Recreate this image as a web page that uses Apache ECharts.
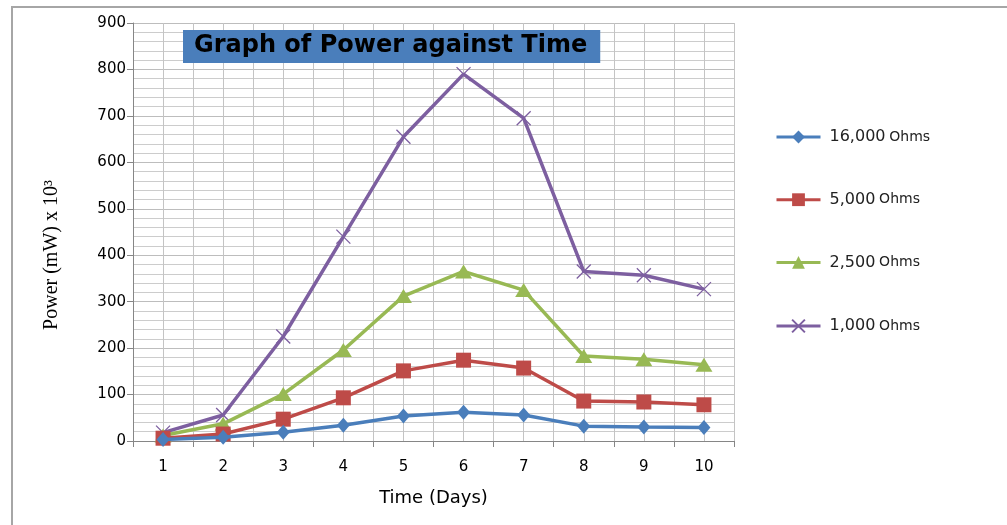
<!DOCTYPE html>
<html><head><meta charset="utf-8">
<script src="https://cdn.jsdelivr.net/npm/echarts@6/dist/echarts.min.js"></script>
<style>html,body{margin:0;padding:0;background:#fff}#c{width:1007px;height:525px}</style>
</head><body><div id="c"></div>
<script>
// ---- data ----
const days = ['1','2','3','4','5','6','7','8','9','10'];
const seriesNames = ['16,000 Ohms','5,000 Ohms','2,500 Ohms','1,000 Ohms'];
const ohms16000 = [3, 8, 19, 34, 54, 62, 56, 32, 30, 29];
const ohms5000  = [6, 15, 47, 93, 151, 174, 157, 86, 84, 78];
const ohms2500  = [12, 37, 101, 196, 312, 365, 325, 183, 176, 164];
const ohms1000  = [18, 56, 225, 440, 655, 790, 695, 365, 357, 327];
const yMin = 0, yMax = 900, yStep = 100;
const titleText = 'Graph of Power against Time';
const xName = 'Time (Days)';
const yName = 'Power (mW) x 10³';

const colors = ['#4a7ebb', '#be4b48', '#98b954', '#7d5fa0'];
const crossPath = 'path://M0,0L10,10M10,0L0,10';
const font = 'DejaVu Sans';

const chart = echarts.init(document.getElementById('c'));
chart.setOption({
  animation: false,
  backgroundColor: '#fff',
  title: {
    text: titleText,
    left: 183, top: 30,
    backgroundColor: '#4a7ebb',
    padding: [4, 13, 5, 11],
    textStyle: { fontFamily: font, fontWeight: 'bold', fontSize: 24, color: '#000', lineHeight: 24 }
  },
  graphic: [
    { type: 'rect', shape: { x: 12, y: 7, width: 1200, height: 700 }, style: { fill: 'none', stroke: '#a6a6a6', lineWidth: 2 }, silent: true, z: -1 },
    { type: 'text', x: 52, y: 255, rotation: Math.PI / 2,
      style: { text: yName, font: '20px "Liberation Serif"', fill: '#000', align: 'center', verticalAlign: 'middle' } }
  ],
  legend: {
    orient: 'vertical', left: 775, top: 129, itemGap: 46.7, padding: 0,
    itemWidth: 44, itemHeight: 16,
    data: seriesNames,
    lineStyle: { width: 3 },
    formatter: name => { const p = name.split(' '); return '{a|' + p[0] + '} {b|' + p[1] + '}'; },
    textStyle: { color: '#222', fontFamily: font, padding: [0, 0, 0, 4],
      rich: { a: { fontSize: 16, fontFamily: font, lineHeight: 16, color: '#222' },
              b: { fontSize: 14, fontFamily: font, lineHeight: 16, color: '#222' } } }
  },
  grid: { left: 133, top: 23, width: 601, height: 418, containLabel: false },
  xAxis: [
    { type: 'category', data: days, boundaryGap: true,
      name: xName, nameLocation: 'middle', nameGap: 48,
      nameTextStyle: { fontFamily: font, fontSize: 18, color: '#000' },
      axisLine: { lineStyle: { color: '#868686', width: 1 } },
      axisTick: { show: true, length: 6, inside: false, lineStyle: { color: '#868686' } },
      axisLabel: { fontFamily: font, fontSize: 15, color: '#000', margin: 19 },
      splitLine: { show: false } },
    { type: 'value', min: 0, max: 10, interval: 0.5, show: true, position: 'top',
      axisLine: { show: false }, axisTick: { show: false }, axisLabel: { show: false },
      splitLine: { show: true, lineStyle: { color: '#c4c4c4', width: 1 } } }
  ],
  yAxis: {
    type: 'value', min: yMin, max: yMax, interval: yStep,
    axisLine: { show: true, lineStyle: { color: '#868686', width: 1 } },
    axisTick: { show: true, length: 6, lineStyle: { color: '#868686' } },
    axisLabel: { fontFamily: font, fontSize: 15, color: '#000', margin: 7 },
    splitLine: { show: true, lineStyle: { color: '#bdbdbd', width: 1 } },
    minorTick: { show: false, splitNumber: 5 },
    minorSplitLine: { show: true, lineStyle: { color: '#cccccc', width: 1 } }
  },
  series: [
    { name: seriesNames[0], type: 'line', data: ohms16000, symbol: 'diamond', symbolSize: [13, 15],
      lineStyle: { color: colors[0], width: 3.5 }, itemStyle: { color: colors[0] }, z: 5 },
    { name: seriesNames[1], type: 'line', data: ohms5000, symbol: 'rect', symbolSize: 15,
      lineStyle: { color: colors[1], width: 3.5 }, itemStyle: { color: colors[1] }, z: 4 },
    { name: seriesNames[2], type: 'line', data: ohms2500, symbol: 'triangle', symbolSize: [17, 14],
      lineStyle: { color: colors[2], width: 3.5 }, itemStyle: { color: colors[2] }, z: 3 },
    { name: seriesNames[3], type: 'line', data: ohms1000, symbol: crossPath, symbolSize: 14,
      lineStyle: { color: colors[3], width: 3.5 }, itemStyle: { color: 'none', borderColor: colors[3], borderWidth: 1.3 }, z: 2 }
  ]
});
</script></body></html>
